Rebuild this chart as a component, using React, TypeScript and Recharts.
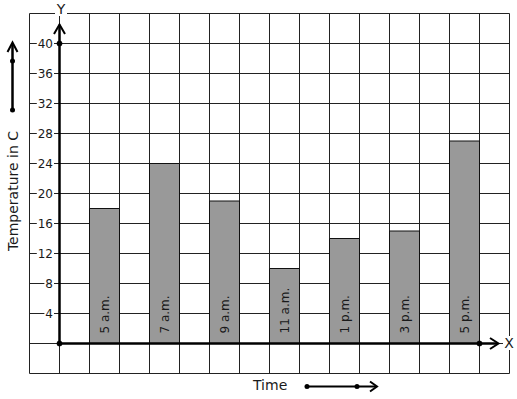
import { BarChart, Bar, XAxis, YAxis, CartesianGrid, ReferenceLine, ReferenceDot, LabelList } from "recharts"

const times = ["5 a.m.", "7 a.m.", "9 a.m.", "11 a.m.", "1 p.m.", "3 p.m.", "5 p.m."]
const temps = [18, 24, 19, 10, 14, 15, 27]
const yTicks = [-4, 0, 4, 8, 12, 16, 20, 24, 28, 32, 36, 40, 44]
const yLabelTicks = [4, 8, 12, 16, 20, 24, 28, 32, 36, 40]
const xTicks = [0, 1, 2, 3, 4, 5, 6, 7, 8, 9, 10, 11, 12, 13, 14, 15, 16]

// one empty grid column between bars, first bar in the third column
const data = times.map((t, i) => ({ time: t, pos: 2.5 + 2 * i, temp: temps[i] }))

const FONT = "'DejaVu Sans', Verdana, sans-serif"
const INK = "#1a1a1a"

function YTick(props: any) {
  const { y, payload } = props
  const v = payload?.value ?? 0
  if (!yLabelTicks.includes(v)) return <g />
  const w = String(v).length * 7.6
  return (
    <g>
      <rect x={53 - w - 1} y={y - 7} width={w + 2} height={14} fill="#fff" />
      <text x={53} y={y} textAnchor="end" dominantBaseline="central" fontSize={12} fontFamily={FONT} fill={INK}>
        {v}
      </text>
    </g>
  )
}

function BarText(props: any) {
  const { x, y, width, height, value } = props
  const cx = x + width / 2
  const cy = y + height - 10
  return (
    <text
      x={cx}
      y={cy}
      transform={`rotate(-90, ${cx}, ${cy})`}
      textAnchor="start"
      dominantBaseline="central"
      fontSize={12}
      fontFamily={FONT}
      fill={INK}
    >
      {value}
    </text>
  )
}

export default function App() {
  return (
    <div style={{ position: "absolute", left: 0, top: 0, width: 517, height: 399, background: "#fff" }}>
      <BarChart
        width={517}
        height={399}
        data={data}
        margin={{ top: 13.5, right: 7.5, bottom: 25.5, left: 5.5 }}
      >
        <CartesianGrid stroke="#222" strokeWidth={1} />
        <XAxis dataKey="pos" type="number" domain={[0, 16]} ticks={xTicks} hide />
        <YAxis
          type="number"
          domain={[-4, 44]}
          ticks={yTicks}
          width={24}
          axisLine={false}
          tickLine={false}
          tick={(p: any) => <YTick {...p} />}
          interval={0}
        />
        <Bar dataKey="temp" barSize={30} fill="#999999" stroke="#111" strokeWidth={1} isAnimationActive={false}>
          <LabelList dataKey="time" content={<BarText />} />
        </Bar>
        <ReferenceLine segment={[{ x: 1, y: 0 }, { x: 1, y: 42.5 }]} stroke="#000" strokeWidth={2.5} />
        <ReferenceLine segment={[{ x: 1, y: 0 }, { x: 15.6, y: 0 }]} stroke="#000" strokeWidth={2.5} />
        <ReferenceDot x={1} y={40} r={2.5} fill="#000" stroke="#000" />
        <ReferenceDot x={1} y={0} r={2.5} fill="#000" stroke="#000" />
        <ReferenceDot x={15} y={0} r={2.5} fill="#000" stroke="#000" />
      </BarChart>
      <svg
        width={517}
        height={399}
        style={{ position: "absolute", left: 0, top: 0, pointerEvents: "none" }}
        fontFamily={FONT}
      >
        {/* axis arrow heads */}
        <polyline points="54,34 59.5,24.5 65,34" fill="none" stroke="#000" strokeWidth={2} />
        <polyline points="490,338 498.5,343.5 490,349" fill="none" stroke="#000" strokeWidth={2} />
        <rect x={55} y={2} width={12} height={14} fill="#fff" />
        <text x={61} y={14} textAnchor="middle" fontSize={14} fill={INK}>Y</text>
        <rect x={503} y={336} width={12} height={14} fill="#fff" />
        <text x={509} y={348} textAnchor="middle" fontSize={14} fill={INK}>X</text>

        {/* y title with arrow */}
        <text
          x={13}
          y={191}
          transform="rotate(-90, 13, 191)"
          textAnchor="middle"
          dominantBaseline="central"
          fontSize={14}
          fill={INK}
        >
          Temperature in C
        </text>
        <line x1={12.5} y1={110} x2={12.5} y2={44} stroke="#000" strokeWidth={2.5} />
        <polyline points="7.5,52 12.5,42.5 17.5,52" fill="none" stroke="#000" strokeWidth={2} />
        <circle cx={12.5} cy={110} r={2.5} fill="#000" />
        <circle cx={12.5} cy={61} r={2.5} fill="#000" />

        {/* x title with arrow */}
        <text x={253} y={390} fontSize={14} fill={INK}>Time</text>
        <line x1={307} y1={386.5} x2={376} y2={386.5} stroke="#000" strokeWidth={2} />
        <polyline points="370,381.5 377,386.5 370,391.5" fill="none" stroke="#000" strokeWidth={2} />
        <circle cx={307} cy={386.5} r={2.5} fill="#000" />
        <circle cx={357} cy={386.5} r={2.5} fill="#000" />
      </svg>
    </div>
  )
}
